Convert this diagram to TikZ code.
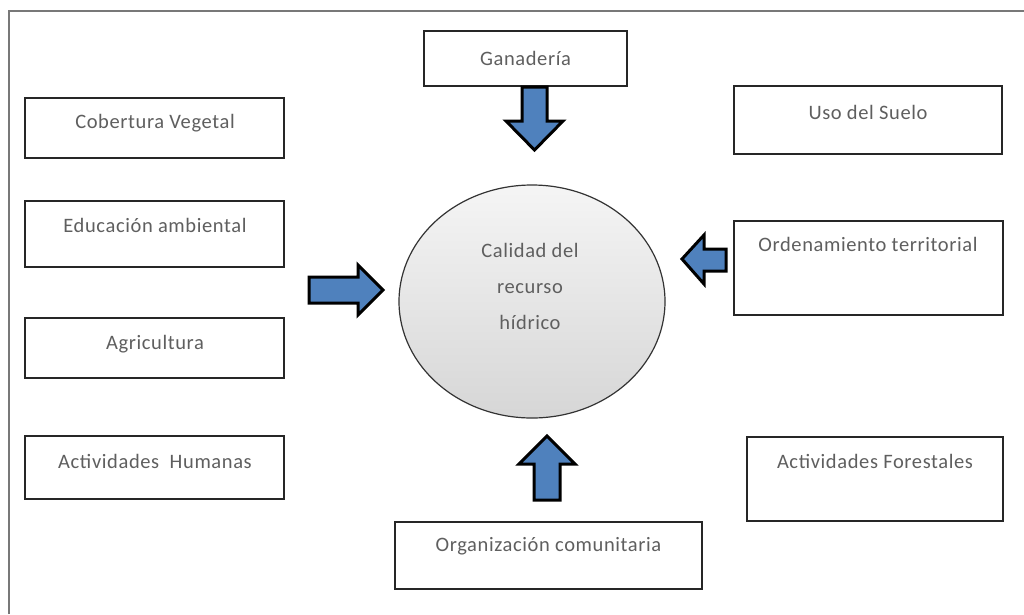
\documentclass[tikz,border=0pt]{standalone}
\usepackage{fontspec}
\setmainfont[LetterSpace=3]{Carlito}
\definecolor{txtgray}{RGB}{95,95,95}
\definecolor{arrowblue}{RGB}{79,129,189}
\definecolor{framegray}{RGB}{120,120,120}
\begin{document}
\begin{tikzpicture}[x=1pt,y=-1pt,
  box/.style={draw=black!85,line width=1.6pt,inner sep=0pt,fill=white},
  lbl/.style={text=txtgray,inner sep=0pt,font=\fontsize{20.5}{24}\selectfont},
  blockarrow/.style={draw=black,line width=3pt,fill=arrowblue,line join=miter}]
\useasboundingbox (0,0) rectangle (1024,614);
\fill[white] (0,0) rectangle (1024,614);
% frame
\draw[framegray,line width=2pt] (9,614) -- (9,11) -- (1024,11);
% boxes
\node[box,minimum width=259pt,minimum height=60pt] (cob) at (154.5,128) {};
\node[box,minimum width=259pt,minimum height=66pt] (edu) at (154.5,234) {};
\node[box,minimum width=259pt,minimum height=60pt] (agr) at (154.5,348) {};
\node[box,minimum width=259pt,minimum height=63pt] (hum) at (154.5,467.5) {};
\node[box,minimum width=203pt,minimum height=55pt] (gan) at (525.5,58.5) {};
\node[box,minimum width=268pt,minimum height=68pt] (uso) at (868,120) {};
\node[box,minimum width=269pt,minimum height=94pt] (ord) at (868.5,268) {};
\node[box,minimum width=256pt,minimum height=84pt] (for) at (875,479) {};
\node[box,minimum width=307pt,minimum height=67pt] (org) at (548.5,555.5) {};
% labels
\node[lbl] (tcob) at (155,123) {Cobertura Vegetal};
\node[lbl] (tedu) at (155,225) {Educación ambiental};
\node[lbl] (tagr) at (155,344) {Agricultura};
\node[lbl] (thum) at (155,461) {Actividades\ \ Humanas};
\node[lbl] (tgan) at (525.5,58) {Ganadería};
\node[lbl] (tuso) at (868,112) {Uso del Suelo};
\node[lbl] (tord) at (868,244) {Ordenamiento territorial};
\node[lbl] (tfor) at (875,461) {Actividades Forestales};
\node[lbl] (torg) at (548.5,546) {Organización comunitaria};
% central ellipse
\path[draw=black!80,line width=1.2pt,top color=gray!8,bottom color=gray!32]
  (532,301.5) ellipse [x radius=133pt, y radius=116.5pt];
\coordinate (cen) at (532,301.5);
\node[lbl,align=center,font=\fontsize{20.5}{36}\selectfont] (tcen) at (530,286) {Calidad del\\recurso\\hídrico};
% block arrows
\draw[blockarrow] (522,87) -- (547,87) -- (547,121) -- (563,121) -- (534.5,150) -- (506,121) -- (522,121) -- cycle;
\draw[blockarrow] (309,277) -- (358,277) -- (358,265) -- (383,290) -- (358,315) -- (358,303) -- (309,303) -- cycle;
\draw[blockarrow] (726,249) -- (704,249) -- (704,235) -- (682,259) -- (704,284) -- (704,271) -- (726,271) -- cycle;
\draw[blockarrow] (534,500) -- (534,464) -- (519,464) -- (547,436) -- (575,464) -- (560,464) -- (560,500) -- cycle;
\end{tikzpicture}
\end{document}
